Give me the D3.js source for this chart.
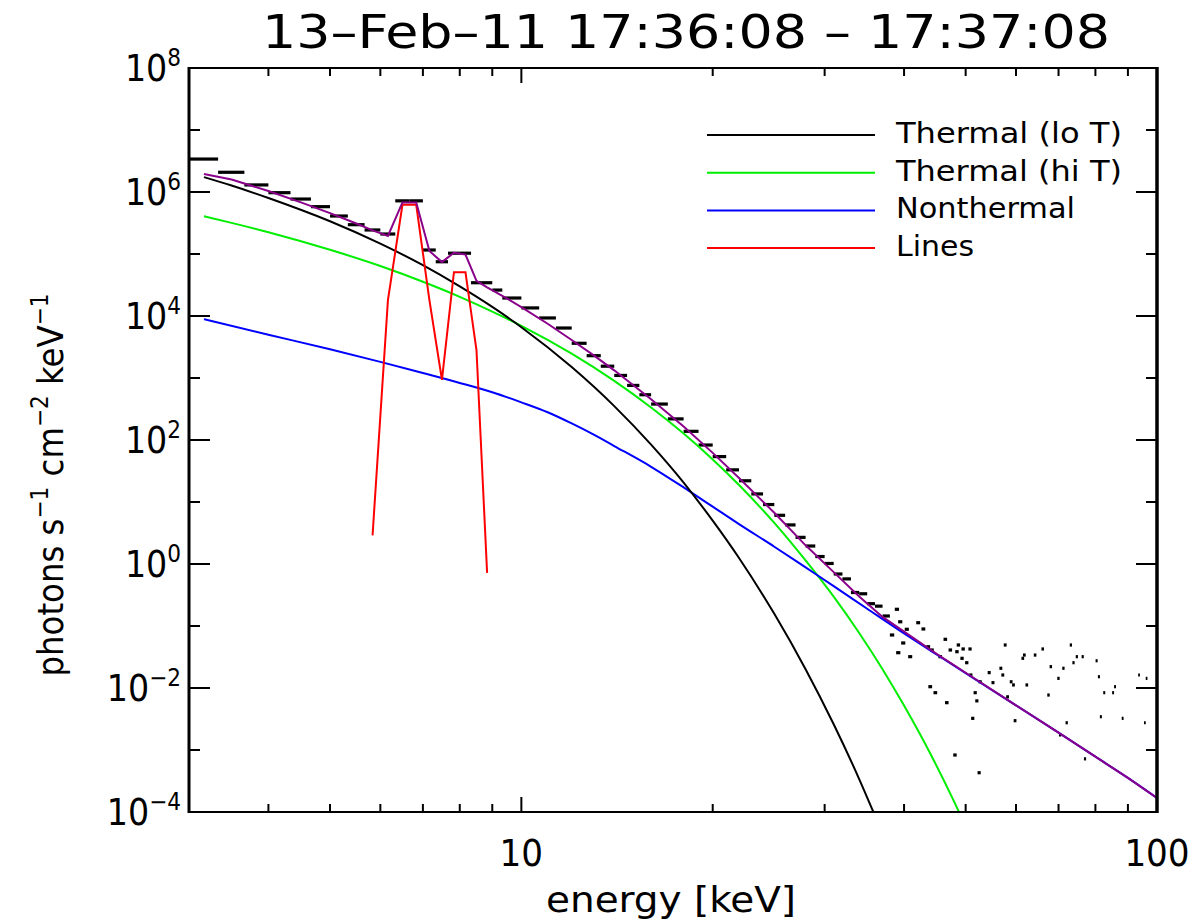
<!DOCTYPE html>
<html>
<head>
<meta charset="utf-8">
<script src="https://cdn.jsdelivr.net/npm/d3@7"></script>
<style>
  body { margin: 0; background: #fff; }
  text { font-family: "DejaVu Sans Condensed", "Liberation Sans Narrow", "DejaVu Sans", sans-serif; fill: #000; }
</style>
</head>
<body>
<script>
var width = 1196, height = 923;
var plotLeft = 189, plotRight = 1157, plotTop = 68, plotBottom = 812;

// observed spectrum: bin centre (keV) and flux
var obsEnergy = [3.167, 3.5, 3.833, 4.167, 4.5, 4.833, 5.167, 5.5, 5.833, 6.167, 6.5, 6.833, 7.167, 7.5, 7.833, 8.167, 8.5, 8.833, 9.167,
                 9.667, 10.333, 11, 11.667, 12.333, 13, 13.667, 14.333, 15, 15.667,
                 16.5, 17.5, 18.5, 19.5, 20.5, 21.5, 22.5, 23.5, 24.5, 25.5, 26.5, 27.5, 28.5, 29.5, 30.5, 31.5, 32.5, 33.5, 34.5, 35.5, 36.5, 37.5,
                 38.3, 38.98, 39.17, 39.45, 39.88, 40.4, 40.9, 42.1, 42.9, 43.66, 43.98, 44.25, 44.8, 45.6, 46.45, 46.7, 47.3, 48.1, 48.45, 48.7,
                 49.35, 49.55, 50.2, 50.8, 50.95, 51.3, 51.76, 52.07, 52.5, 52.7, 54.45, 55.2, 56.8, 57.2, 57.7, 58.2, 58.96, 59.46, 59.8,
                 61.5, 61.85, 62.4, 64.3, 66.1, 67.5, 68.07, 69.98, 70.4, 71.25, 72.1, 73.2, 73.9, 74.8, 76.4, 77.05,
                 80.35, 81.03, 81.6, 82.6, 85.3, 85.9, 88.3, 93.7, 95.7, 96.3];
var obsFlux = [3.4e6, 2.08e6, 1.30e6, 9.75e5, 7.7e5, 5.8e5, 4.1e5, 2.97e5, 2.44e5, 2.1e5, 7.2e5, 7.2e5, 1.16e5, 7.5e4, 1.03e5, 1.03e5, 3.44e4, 3.44e4, 2.62e4,
               1.95e4, 1.35e4, 9.3e3, 6.4e3, 3.63e3, 2.29e3, 1.55e3, 1.10e3, 759, 537,
               380, 219, 138, 83, 54, 33, 22, 13.5, 9.1, 6.1, 4.27, 2.69, 1.95, 1.32, 1.02, 0.69, 0.575, 0.347, 0.331, 0.229, 0.209, 0.145,
               0.0716, 0.186, 0.0371, 0.117, 0.0532, 0.0885, 0.032, 0.113, 0.0895, 0.0463, 0.0105, 0.041, 8.4e-3, 0.032, 0.061, 5.8e-3, 0.041, 8.3e-4, 0.0385, 0.0494,
               0.0301, 0.0426, 0.0256, 0.0426, 0.0162, 3.24e-3, 8.4e-3, 6.2e-3, 4.3e-4, 0.0126, 0.0177, 0.0122, 0.0208, 0.0162, 0.0494, 7.2e-3, 0.0126, 0.0112, 2.97e-3,
               0.0301, 0.034, 0.0112, 0.034, 0.0426, 7.7e-3, 0.0221, 0.0143, 1.75e-3, 0.0208, 2.75e-3, 0.0494, 0.0256, 0.032, 0.032, 7.2e-4,
               0.0275, 0.0152, 3.44e-3, 8.4e-3, 8.4e-3, 0.0105, 3.24e-3, 0.0162, 2.75e-3, 0.0143];

// fit components
var loTEnergy = [3.167, 3.5, 4, 5, 6, 7, 8, 9, 10, 12, 14, 16, 18, 20, 22, 25, 28, 31, 34, 36];
var loTFlux = [1.74e6, 1.27e6, 8.0e5, 3.37e5, 1.47e5, 6.6e4, 3.0e4, 1.40e4, 6.6e3, 1.5e3, 352, 84, 20.5, 5.0, 1.25, 0.157, 0.0201, 2.6e-3, 3.4e-4, 8.7e-5];

var hiTEnergy = [3.167, 3.5, 4, 5, 6, 7, 8, 9, 10, 12, 14, 16, 18, 20, 22, 25, 28, 31, 34, 37, 40, 44, 48, 50];
var hiTFlux = [4.06e5, 3.18e5, 2.25e5, 1.17e5, 6.4e4, 3.57e4, 2.04e4, 1.18e4, 6.95e3, 2.47e3, 900, 335, 127, 48.6, 18.8, 4.6, 1.14, 0.297, 0.0773, 0.0201, 5.2e-3, 8.7e-4, 1.44e-4, 5.9e-5];

var nthEnergy = [3.167, 4, 5, 6, 7, 8, 9, 10, 11, 12, 13, 14, 16, 18, 20, 22, 25, 28, 31, 35, 40, 45, 50, 60, 70, 80, 90, 100];
var nthFlux = [8.9e3, 5.0e3, 2.9e3, 1.82e3, 1.2e3, 832, 589, 405, 280, 185, 122, 80, 37, 17.2, 8.4, 4.4, 1.9, 0.88, 0.44, 0.19, 0.0759, 0.0347, 0.0174, 5.25e-3, 1.91e-3, 7.8e-4, 3.55e-4, 1.68e-4];

var lineEnergy = [5.833, 6.167, 6.5, 6.833, 7.167, 7.5, 7.833, 8.167, 8.5, 8.833];
var lineFlux = [2.9, 1.8e4, 6.2e5, 6.2e5, 1.8e4, 930, 5.1e4, 5.1e4, 2.8e3, 0.72];

var totalEnergy = [3.167, 3.5, 4, 4.5, 5, 5.5, 5.833, 6.167, 6.5, 6.833, 7.167, 7.5, 7.833, 8.167, 8.5, 8.833, 9.5, 10, 11, 12, 13, 14,
                   16, 18, 20, 22, 25, 28, 31, 34, 37, 40, 45, 50, 60, 70, 80, 90, 100];
var totalFlux = [1.95e6, 1.59e6, 1.04e6, 6.8e5, 4.57e5, 3.1e5, 2.4e5, 1.95e5, 6.8e5, 6.8e5, 1.12e5, 7.4e4, 1.05e5, 9.8e4, 3.7e4, 2.9e4, 1.91e4, 1.39e4, 7.5e3, 4.1e3, 2.32e3, 1.33e3,
                 455, 165, 62, 24.4, 6.7, 2.0, 0.74, 0.30, 0.14, 0.081, 0.0355, 0.0176, 5.25e-3, 1.91e-3, 7.8e-4, 3.55e-4, 1.68e-4];

var legendNames = ["Thermal (lo T)", "Thermal (hi T)", "Nonthermal", "Lines"];
var legendColors = ["#000000", "#00ee00", "#0000ff", "#ff0000"];
var legendWidths = [226, 226, 179, 78];

var xTicksMajor = [10, 100];
var yTicksMajor = [-4, -2, 0, 2, 4, 6, 8];

var x = d3.scaleLog().domain([3, 100]).range([plotLeft, plotRight]);
var y = d3.scaleLog().domain([1e-4, 1e8]).range([plotBottom, plotTop]);

var svg = d3.select("body").append("svg")
            .attr("width", width).attr("height", height);

svg.append("defs").append("clipPath").attr("id", "plot")
   .append("rect").attr("x", plotLeft).attr("y", plotTop)
   .attr("width", plotRight - plotLeft).attr("height", plotBottom - plotTop);

var plot = svg.append("g").attr("clip-path", "url(#plot)");

function series(es, fs) {
    return es.map(function(e, i){ return [e, fs[i]]; });
}

var smooth = d3.line().x(function(d){ return x(d[0]); }).y(function(d){ return y(d[1]); })
               .curve(d3.curveMonotoneX);
var straight = d3.line().x(function(d){ return x(d[0]); }).y(function(d){ return y(d[1]); });

// bin half widths: 1/3 keV bins, then 2/3 keV, then 1 keV (drawn short at high energy)
function halfWidth(e) {
    if (e < 9.3) return 1 / 6;
    if (e < 16) return 1 / 3;
    if (e < 38) return 0.5;
    return 0.3;
}

var obs = series(obsEnergy, obsFlux);
plot.selectAll(".obs").data(obs).enter().append("line").classed("obs", true)
    .attr("x1", function(d){ return x(d[0] - halfWidth(d[0])); })
    .attr("x2", function(d){ return x(d[0] + halfWidth(d[0])); })
    .attr("y1", function(d){ return y(d[1]); })
    .attr("y2", function(d){ return y(d[1]); })
    .attr("stroke", "#000").attr("stroke-width", 3.2);

plot.append("path").attr("d", smooth(series(hiTEnergy, hiTFlux)))
    .attr("fill", "none").attr("stroke", legendColors[1]).attr("stroke-width", 2);
plot.append("path").attr("d", smooth(series(nthEnergy, nthFlux)))
    .attr("fill", "none").attr("stroke", legendColors[2]).attr("stroke-width", 2);
plot.append("path").attr("d", smooth(series(loTEnergy, loTFlux)))
    .attr("fill", "none").attr("stroke", legendColors[0]).attr("stroke-width", 2);
plot.append("path").attr("d", straight(series(lineEnergy, lineFlux)))
    .attr("fill", "none").attr("stroke", legendColors[3]).attr("stroke-width", 2);
plot.append("path").attr("d", straight(series(totalEnergy, totalFlux)))
    .attr("fill", "none").attr("stroke", "#8a008a").attr("stroke-width", 2);

// frame
svg.append("line").attr("x1", plotLeft).attr("x2", plotLeft).attr("y1", plotTop - 1).attr("y2", plotBottom + 1)
   .attr("stroke", "#000").attr("stroke-width", 3);
svg.append("line").attr("x1", plotRight).attr("x2", plotRight).attr("y1", plotTop - 1).attr("y2", plotBottom + 1)
   .attr("stroke", "#000").attr("stroke-width", 3.5);
svg.append("line").attr("x1", plotLeft).attr("x2", plotRight).attr("y1", plotTop).attr("y2", plotTop)
   .attr("stroke", "#000").attr("stroke-width", 2);
svg.append("line").attr("x1", plotLeft).attr("x2", plotRight).attr("y1", plotBottom).attr("y2", plotBottom)
   .attr("stroke", "#000").attr("stroke-width", 2);

// x ticks
var xTicks = x.ticks().filter(function(t){ return t > 3 && t < 100; });
xTicks.forEach(function(t){
    var len = xTicksMajor.indexOf(t) >= 0 ? 15 : 8;
    svg.append("line").attr("x1", x(t)).attr("x2", x(t)).attr("y1", plotBottom).attr("y2", plotBottom - len)
       .attr("stroke", "#000").attr("stroke-width", 2);
    svg.append("line").attr("x1", x(t)).attr("x2", x(t)).attr("y1", plotTop).attr("y2", plotTop + len)
       .attr("stroke", "#000").attr("stroke-width", 2);
});
svg.selectAll(".xlab").data(xTicksMajor).enter().append("text").classed("xlab", true)
   .attr("x", function(d){ return x(d); }).attr("y", 866)
   .attr("text-anchor", "middle").attr("font-size", 38)
   .text(function(d){ return d; });

// y ticks, every decade, labelled every second
d3.range(-3, 8).forEach(function(p){
    var len = yTicksMajor.indexOf(p) >= 0 ? 21 : 11;
    var yy = y(Math.pow(10, p));
    svg.append("line").attr("x1", plotLeft).attr("x2", plotLeft + len).attr("y1", yy).attr("y2", yy)
       .attr("stroke", "#000").attr("stroke-width", 2);
    svg.append("line").attr("x1", plotRight).attr("x2", plotRight - len).attr("y1", yy).attr("y2", yy)
       .attr("stroke", "#000").attr("stroke-width", 2);
});
var ylab = svg.selectAll(".ylab").data(yTicksMajor).enter().append("text").classed("ylab", true)
   .attr("x", 181).attr("y", function(d){ return y(Math.pow(10, d)) + 13; })
   .attr("text-anchor", "end").attr("font-size", 37);
ylab.append("tspan").text("10");
ylab.append("tspan").attr("font-size", 24).attr("dy", -15)
    .text(function(d){ return d < 0 ? "\u2212" + (-d) : d; });

// titles
svg.append("text").attr("x", 262).attr("y", 48).attr("font-size", 46)
   .attr("textLength", 848).attr("lengthAdjust", "spacingAndGlyphs")
   .text("13\u2013Feb\u201311 17:36:08 \u2013 17:37:08");

svg.append("text").attr("x", 671).attr("y", 912).attr("text-anchor", "middle").attr("font-size", 36)
   .attr("textLength", 250).attr("lengthAdjust", "spacingAndGlyphs")
   .text("energy [keV]");

var yt = svg.append("text").attr("transform", "translate(63,485) rotate(-90)")
   .attr("text-anchor", "middle").attr("font-size", 36);
yt.append("tspan").text("photons s");
yt.append("tspan").attr("font-size", 24).attr("dy", -15).text("\u22121");
yt.append("tspan").attr("dy", 15).text(" cm");
yt.append("tspan").attr("font-size", 24).attr("dy", -15).text("\u22122");
yt.append("tspan").attr("dy", 15).text(" keV");
yt.append("tspan").attr("font-size", 24).attr("dy", -15).text("\u22121");

// legend
var legends = svg.append("g").selectAll(".legends").data(legendNames);
var legend = legends.enter().append("g").classed("legends", true)
            .attr("transform", function(d, i){ return "translate(0," + (135 + i * 37.7) + ")"; });
legend.append("line").attr("x1", 707).attr("x2", 875).attr("y1", 0).attr("y2", 0)
      .attr("stroke", function(d, i){ return legendColors[i]; }).attr("stroke-width", 2);
legend.append("text").attr("x", 896).attr("y", 8).attr("font-size", 29)
      .attr("textLength", function(d, i){ return legendWidths[i]; }).attr("lengthAdjust", "spacingAndGlyphs")
      .text(function(d){ return d; });
</script>
</body>
</html>
